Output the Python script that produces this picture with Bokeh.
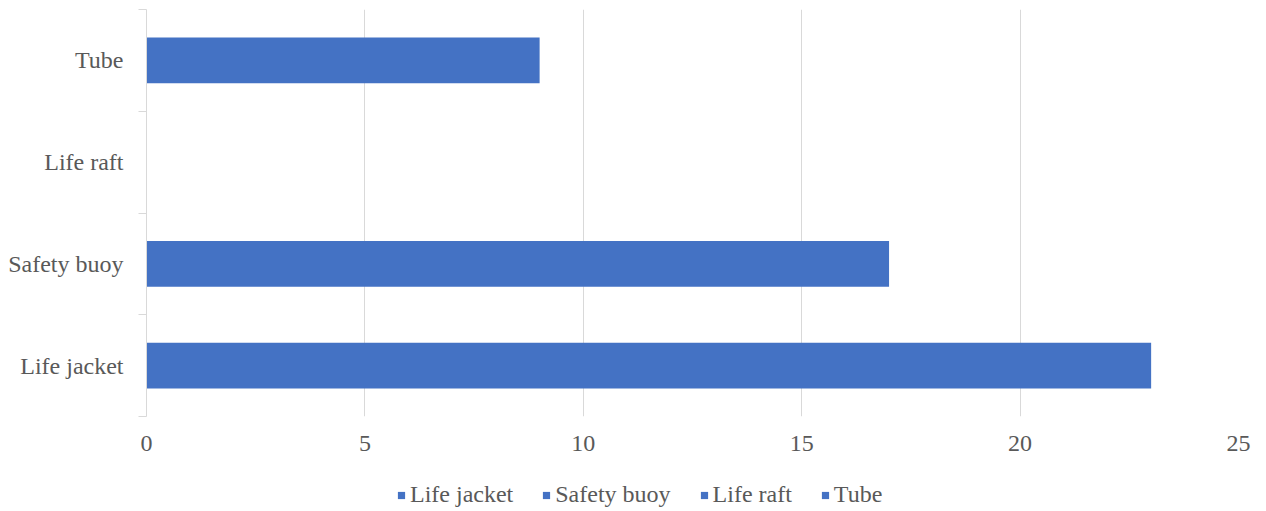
from bokeh.plotting import figure
from bokeh.layouts import column
from bokeh.models import Range1d, FixedTicker, Legend, LegendItem
from bokeh.core.properties import value
from bokeh.embed import file_html
from bokeh.resources import INLINE

categories = ["Life jacket", "Safety buoy", "Life raft", "Tube"]
values = [23, 17, 0, 9]
x_ticks = [0, 5, 10, 15, 20, 25]

FONT = "Liberation Serif"
TXT = "#595959"
GRID = "#d9d9d9"
BLUE = "#4472C4"

ypos = [i + 0.5 for i in range(len(categories))]
bounds = list(range(len(categories) + 1))

p = figure(width=1266, height=465, output_backend="svg", toolbar_location=None,
           x_range=Range1d(x_ticks[0], x_ticks[-1]), y_range=Range1d(0, len(categories)),
           min_border_left=146, min_border_right=28, min_border_top=9, min_border_bottom=49)
p.outline_line_color = None
p.background_fill_color = "white"

r = p.hbar(y=ypos, right=values, left=0, height=0.45, fill_color=BLUE, line_color=None)

# x axis
p.xaxis.ticker = FixedTicker(ticks=x_ticks)
p.xaxis.axis_line_color = None
p.xaxis.major_tick_line_color = None
p.xaxis.minor_tick_line_color = None
p.xaxis.major_tick_out = 0
p.xaxis.major_tick_in = 0
p.xaxis.major_label_standoff = 19
p.xaxis.major_label_text_font = FONT
p.xaxis.major_label_text_font_size = "24px"
p.xaxis.major_label_text_color = TXT

# y axis
p.yaxis.ticker = FixedTicker(ticks=ypos, minor_ticks=bounds)
p.yaxis.major_label_overrides = {y: c for y, c in zip(ypos, categories)}
p.yaxis.axis_line_color = GRID
p.yaxis.major_tick_line_color = None
p.yaxis.major_tick_out = 0
p.yaxis.major_tick_in = 0
p.yaxis.minor_tick_line_color = GRID
p.yaxis.minor_tick_in = 0
p.yaxis.minor_tick_out = 8
p.yaxis.major_label_standoff = 15
p.yaxis.major_label_text_font = FONT
p.yaxis.major_label_text_font_size = "24px"
p.yaxis.major_label_text_color = TXT

p.xgrid.ticker = FixedTicker(ticks=x_ticks)
p.xgrid.grid_line_color = GRID
p.ygrid.grid_line_color = None

# legend strip (its key glyphs sit outside the strip's visible ranges)
lg = figure(width=1266, height=46, output_backend="svg", toolbar_location=None,
            x_range=Range1d(-2, -1), y_range=Range1d(-2, -1),
            min_border=0)
lg.axis.visible = False
lg.grid.visible = False
lg.outline_line_color = None
key = lg.scatter(x=values, y=ypos, marker="square", size=7, fill_color=BLUE, line_color=None)
items = [LegendItem(label=value(c), renderers=[key], index=i) for i, c in enumerate(categories)]
legend = Legend(items=items, orientation="horizontal", location=(246, 3),
                label_text_font=FONT, label_text_font_size="24px", label_text_color=TXT,
                glyph_width=18, glyph_height=18, label_standoff=0, spacing=24,
                padding=0, margin=0, border_line_color=None, background_fill_alpha=0,
                label_height=20)
lg.add_layout(legend, "center")

open("out.html", "w").write(file_html(column(p, lg), INLINE))
